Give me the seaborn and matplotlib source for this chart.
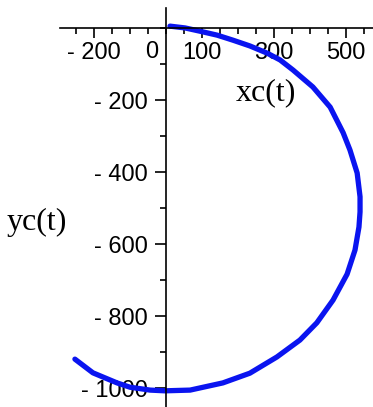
import matplotlib
matplotlib.use("Agg")
import matplotlib.pyplot as plt
import seaborn as sns
import pandas as pd

# Trajectory samples (xc(t), yc(t))
xc = [11, 53, 94, 142, 186, 233, 281, 317, 353, 408, 456, 492, 511, 531,
      539, 539, 536, 525, 503, 464, 419, 372, 308, 233, 158, 67, -3, -44,
      -100, -136, -203, -253]
yc = [6, 1, -8, -19, -33, -49, -69, -88, -116, -163, -219, -290, -338, -402,
      -468, -510, -552, -616, -683, -755, -818, -866, -913, -958, -985, -1005,
      -1007, -1005, -997, -985, -957, -919]

x_labeled = [-200, 100, 300, 500]
y_labeled = [-200, -400, -600, -800, -1000]
x_minor = list(range(-250, 576, 50))
y_minor = list(range(-1000, 1, 100))

df = pd.DataFrame({"xc": xc, "yc": yc})

sns.set_style("white")
plt.rcParams["text.color"] = "black"
tick_font = ["Liberation Sans", "DejaVu Sans"]
label_font = ["Liberation Serif", "DejaVu Serif"]

fig = plt.figure(figsize=(3.73, 4.07), dpi=100)
ax = fig.add_axes([0, 0, 1, 1])

sns.lineplot(data=df, x="xc", y="yc", sort=False, estimator=None,
             color="#0a14f0", linewidth=3.8, ax=ax)

scale = 0.36  # pixels per data unit
ax.set_xlim(-166 / scale, (373 - 166) / scale)
ax.set_ylim(-(407 - 28.3) / scale, 28.3 / scale)

for s in ["top", "right"]:
    ax.spines[s].set_visible(False)
ax.spines["left"].set_position(("data", 0))
ax.spines["bottom"].set_position(("data", 0))
ax.spines["bottom"].set_bounds(-294, 575)
ax.spines["left"].set_bounds(-1060, 56)
for s in ["left", "bottom"]:
    ax.spines[s].set_color("black")
    ax.spines[s].set_linewidth(1.2)

ax.set_xticks(x_minor, minor=True)
ax.set_yticks(y_minor, minor=True)
ax.set_xticks(x_labeled)
ax.set_yticks(y_labeled)
ax.set_xticklabels([f"- {abs(v)}" if v < 0 else str(v) for v in x_labeled],
                   fontsize=17, family=tick_font, color="black")
ax.set_yticklabels([f"- {abs(v)}" if v < 0 else str(v) for v in y_labeled],
                   fontsize=17, family=tick_font, color="black")
ax.tick_params(axis="x", which="major", direction="out", length=7, width=1.2,
               pad=3, color="black", bottom=True)
ax.tick_params(axis="x", which="minor", direction="out", length=4, width=1.2,
               color="black", bottom=True)
ax.tick_params(axis="y", which="major", direction="out", length=8, width=1.2,
               pad=5, color="black", left=True)
ax.tick_params(axis="y", which="minor", direction="out", length=4, width=1.2,
               color="black", left=True)

ax.text(-22, -35, "0", fontsize=17, family=tick_font, ha="right", va="top")
ax.set_xlabel("")
ax.set_ylabel("")
ax.text(278, -180, "xc(t)", fontsize=23, family=label_font, ha="center", va="center")
ax.text(-358, -538, "yc(t)", fontsize=23, family=label_font, ha="center", va="center")

fig.savefig("out.png", dpi=100)
